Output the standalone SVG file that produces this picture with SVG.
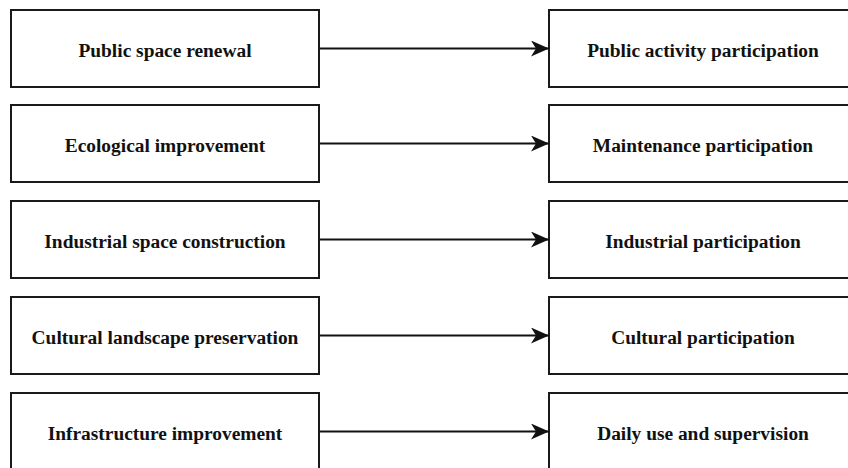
<svg xmlns="http://www.w3.org/2000/svg" width="848" height="468" viewBox="0 0 848 468">
  <style>
    .box { fill: #ffffff; stroke: #1a1a1a; stroke-width: 2; }
    .label { font-family: "Liberation Serif", "Times New Roman", serif; font-weight: bold; font-size: 19.4px; fill: #111111; text-anchor: middle; dominant-baseline: central; }
    .edge { stroke: #111111; stroke-width: 2; fill: none; }
    .head { fill: #111111; }
  </style>
  <defs>
    <marker id="arrow" markerUnits="userSpaceOnUse" markerWidth="20" markerHeight="16" refX="18" refY="8" orient="auto">
      <path class="head" d="M0,0 L18,8 L0,16 L5,8 Z"/>
    </marker>
  </defs>
  <rect width="848" height="468" fill="#ffffff"/>

  <!-- left column: spatial interventions -->
  <g id="public-space-renewal">
    <rect class="box" x="11" y="10" width="308" height="77"/>
    <text class="label" x="165" y="50.5">Public space renewal</text>
  </g>
  <g id="ecological-improvement">
    <rect class="box" x="11" y="105" width="308" height="77"/>
    <text class="label" x="165" y="145.5">Ecological improvement</text>
  </g>
  <g id="industrial-space-construction">
    <rect class="box" x="11" y="201" width="308" height="77"/>
    <text class="label" x="165" y="241.5">Industrial space construction</text>
  </g>
  <g id="cultural-landscape-preservation">
    <rect class="box" x="11" y="297" width="308" height="77"/>
    <text class="label" x="165" y="337.5">Cultural landscape preservation</text>
  </g>
  <g id="infrastructure-improvement">
    <rect class="box" x="11" y="393" width="308" height="77"/>
    <text class="label" x="165" y="433.5">Infrastructure improvement</text>
  </g>

  <!-- right column: forms of participation -->
  <g id="public-activity-participation">
    <rect class="box" x="549" y="10" width="308" height="77"/>
    <text class="label" x="703" y="50.5">Public activity participation</text>
  </g>
  <g id="maintenance-participation">
    <rect class="box" x="549" y="105" width="308" height="77"/>
    <text class="label" x="703" y="145.5">Maintenance participation</text>
  </g>
  <g id="industrial-participation">
    <rect class="box" x="549" y="201" width="308" height="77"/>
    <text class="label" x="703" y="241.5">Industrial participation</text>
  </g>
  <g id="cultural-participation">
    <rect class="box" x="549" y="297" width="308" height="77"/>
    <text class="label" x="703" y="337.5">Cultural participation</text>
  </g>
  <g id="daily-use-and-supervision">
    <rect class="box" x="549" y="393" width="308" height="77"/>
    <text class="label" x="703" y="433.5">Daily use and supervision</text>
  </g>

  <!-- connectors -->
  <g id="connectors">
    <line class="edge" x1="320" y1="48.5" x2="549" y2="48.5" marker-end="url(#arrow)"/>
    <line class="edge" x1="320" y1="143.5" x2="549" y2="143.5" marker-end="url(#arrow)"/>
    <line class="edge" x1="320" y1="239.5" x2="549" y2="239.5" marker-end="url(#arrow)"/>
    <line class="edge" x1="320" y1="335.5" x2="549" y2="335.5" marker-end="url(#arrow)"/>
    <line class="edge" x1="320" y1="431.5" x2="549" y2="431.5" marker-end="url(#arrow)"/>
  </g>
</svg>
